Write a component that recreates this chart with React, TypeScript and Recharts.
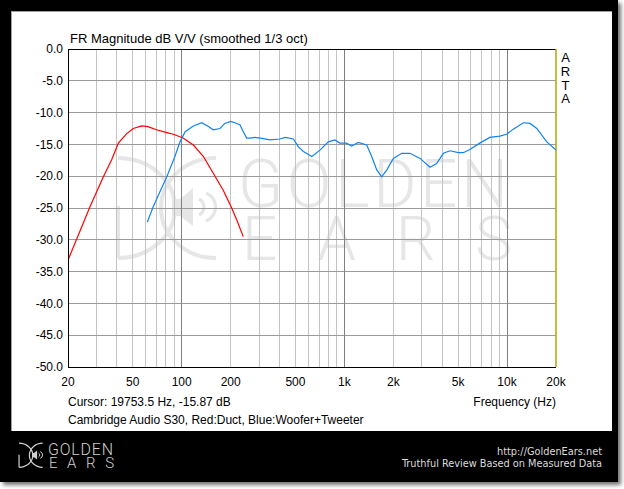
import React from 'react';
import { LineChart, Line, XAxis, YAxis, ReferenceLine } from 'recharts';

// Red: Duct
const ductFreq = [20, 27.3, 33, 37.1, 40.8, 45.9, 50.4, 56.8, 62, 70, 80, 88.8, 102, 118, 136, 156, 180, 203, 218, 239];
const ductDb = [-33.2, -24.8, -20.1, -17.4, -14.8, -13.3, -12.5, -12.1, -12.2, -12.7, -13.1, -13.4, -14.0, -15.1, -16.9, -19.5, -22.2, -25.0, -26.9, -29.5];

// Blue: Woofer+Tweeter
const wtFreq = [61.5, 66.8, 73.6, 81, 90.8, 97.6, 105, 118, 133, 146, 156, 172, 184, 200, 212, 228, 239, 251, 263, 280, 305, 349, 402, 432, 486, 522, 560, 631, 708, 797, 874, 938, 1030, 1108, 1218, 1372, 1472, 1582, 1698, 1824, 2000, 2252, 2530, 2920, 3360, 3690, 4060, 4460, 5020, 5390, 5900, 6800, 7840, 9030, 9940, 10920, 12600, 13860, 15240, 17560, 20000];
const wtDb = [-27.2, -24.8, -22.4, -20.1, -16.9, -14.6, -13.0, -12.1, -11.6, -12.2, -12.7, -12.5, -11.7, -11.4, -11.6, -11.9, -13.0, -14.0, -14.0, -13.9, -14.0, -14.3, -14.15, -13.9, -14.15, -15.4, -16.1, -16.9, -15.9, -14.6, -14.3, -14.8, -14.8, -15.25, -14.7, -15.1, -16.9, -19.0, -20.1, -19.0, -17.2, -16.4, -16.4, -17.2, -18.6, -18.0, -16.4, -16.0, -16.3, -16.3, -15.8, -14.8, -13.9, -13.7, -13.4, -12.6, -11.6, -11.7, -12.5, -14.6, -15.87];

const xTicks = [20, 50, 100, 200, 500, 1000, 2000, 5000, 10000, 20000];
const yTicks = [0, -5, -10, -15, -20, -25, -30, -35, -40, -45, -50];
const minorGrid = [30, 40, 50, 60, 70, 80, 90, 200, 300, 400, 500, 600, 700, 800, 900, 2000, 3000, 4000, 5000, 6000, 7000, 8000, 9000];
const majorGrid = [100, 1000, 10000];
const hGrid = [-5, -10, -15, -20, -25, -30, -35, -40, -45];

const ductData = ductFreq.map((f, i) => ({ f, db: ductDb[i] }));
const wtData = wtFreq.map((f, i) => ({ f, db: wtDb[i] }));

const FONT = '"Liberation Sans", Arial, sans-serif';
const fmtX = (v: number) => (v >= 1000 ? `${v / 1000}k` : `${v}`);

function Logo({ color, sw }: { color: string; sw: number }) {
  return (
    <g>
      <path d="M 118 158 A 57 50 0 0 1 118 258" fill="none" stroke={color} strokeWidth={sw} />
      <path d="M 216 158 A 55 50 0 0 0 216 258" fill="none" stroke={color} strokeWidth={sw} />
      <line x1={118} y1={206} x2={118} y2={258} stroke={color} strokeWidth={sw} />
      <polygon points="172,199 180,199 193,188 193,226 180,216 172,216" fill={color} />
      <path d="M 199 199 A 9 9 0 0 1 199 215" fill="none" stroke={color} strokeWidth={sw * 0.8} />
      <path d="M 206 193 A 15 15 0 0 1 206 221" fill="none" stroke={color} strokeWidth={sw * 0.8} />
      <text x={238} y={207} fontSize={66} fontFamily="Roboto, sans-serif" fontWeight={300} fill={color} textLength={270} lengthAdjust="spacing">GOLDEN</text>
      <text x={242} y={260} fontSize={62} fontFamily="Roboto, sans-serif" fontWeight={300} fill={color} textLength={270} lengthAdjust="spacing">EARS</text>
    </g>
  );
}

export default function App() {
  return (
    <div style={{ position: 'absolute', left: 0, top: 0, width: 624, height: 489, background: '#fff', overflow: 'hidden' }}>
      <div style={{ position: 'absolute', left: 0, top: 0, width: 618, height: 482, background: '#000', boxShadow: '3px 3px 4px rgba(0,0,0,0.55)' }} />
      <div style={{ position: 'absolute', left: 11, top: 11, width: 601, height: 420, background: '#fff', borderTop: '1px solid #a0a0a0', borderLeft: '1px solid #a0a0a0', boxSizing: 'border-box' }} />
      <svg width={624} height={489} style={{ position: 'absolute', left: 0, top: 0 }}>
        <Logo color="#e6e6e6" sw={4} />
      </svg>
      <div style={{ position: 'absolute', left: 0, top: 0 }}>
        <LineChart width={624} height={489} margin={{ top: 49, right: 68, bottom: 92, left: 8 }}>
          <XAxis
            type="number"
            dataKey="f"
            scale="log"
            domain={[20, 20000]}
            allowDataOverflow
            ticks={xTicks}
            interval={0}
            tickFormatter={fmtX}
            tickLine={false}
            tickSize={0}
            tickMargin={10}
            height={30}
            axisLine={{ stroke: '#000', shapeRendering: 'crispEdges' }}
            tick={{ fill: '#000', fontSize: 12, fontFamily: FONT }}
          />
          <YAxis
            type="number"
            domain={[-50, 0]}
            allowDataOverflow
            ticks={yTicks}
            interval={0}
            width={60}
            tickFormatter={(v: number) => v.toFixed(1)}
            tickLine={false}
            tickSize={0}
            tickMargin={5}
            axisLine={{ stroke: '#000', shapeRendering: 'crispEdges' }}
            tick={{ fill: '#000', fontSize: 12, fontFamily: FONT }}
          />
          {minorGrid.map((v) => (
            <ReferenceLine key={`mi${v}`} x={v} stroke="#c4c4c4" strokeWidth={1} shapeRendering="crispEdges" />
          ))}
          {hGrid.map((v) => (
            <ReferenceLine key={`h${v}`} y={v} stroke="#9a9a9a" strokeWidth={1} shapeRendering="crispEdges" />
          ))}
          {majorGrid.map((v) => (
            <ReferenceLine key={`ma${v}`} x={v} stroke="#808080" strokeWidth={1} shapeRendering="crispEdges" />
          ))}
          <ReferenceLine y={0} stroke="#000" strokeWidth={1} shapeRendering="crispEdges" />
          <ReferenceLine x={20000} stroke="#b0a800" strokeWidth={1.5} />
          <Line data={ductData} dataKey="db" type="linear" stroke="#ff0000" strokeWidth={1.2} dot={false} isAnimationActive={false} />
          <Line data={wtData} dataKey="db" type="linear" stroke="#1083f5" strokeWidth={1.2} dot={false} isAnimationActive={false} />
        </LineChart>
      </div>
      <svg width={624} height={489} style={{ position: 'absolute', left: 0, top: 0, pointerEvents: 'none' }}>
        <text x={70} y={43} fontSize={13} fontFamily={FONT} fill="#000">FR Magnitude dB V/V (smoothed 1/3 oct)</text>
        {['A', 'R', 'T', 'A'].map((c, i) => (
          <text key={i} x={565.5} y={62 + i * 13.8} fontSize={13} fontFamily={FONT} fill="#000" textAnchor="middle">{c}</text>
        ))}
        <text x={68} y={406} fontSize={12} fontFamily={FONT} fill="#000">Cursor: 19753.5 Hz, -15.87 dB</text>
        <text x={556} y={406} fontSize={12} fontFamily={FONT} fill="#000" textAnchor="end">Frequency (Hz)</text>
        <text x={68} y={423.6} fontSize={12} fontFamily={FONT} fill="#000">Cambridge Audio S30, Red:Duct, Blue:Woofer+Tweeter</text>
        <g transform="translate(-9.4 405.1) scale(0.241)">
          <Logo color="#d0d0d0" sw={5} />
        </g>
        <text x={497} y={454.5} fontSize={10.5} fontFamily='"DejaVu Sans Condensed", "DejaVu Sans", sans-serif' fill="#dcdcdc" textLength={105} lengthAdjust="spacingAndGlyphs">http://GoldenEars.net</text>
        <text x={402} y={466.5} fontSize={10.5} fontFamily='"DejaVu Sans Condensed", "DejaVu Sans", sans-serif' fill="#dcdcdc" textLength={200} lengthAdjust="spacingAndGlyphs">Truthful Review Based on Measured Data</text>
      </svg>
    </div>
  );
}
